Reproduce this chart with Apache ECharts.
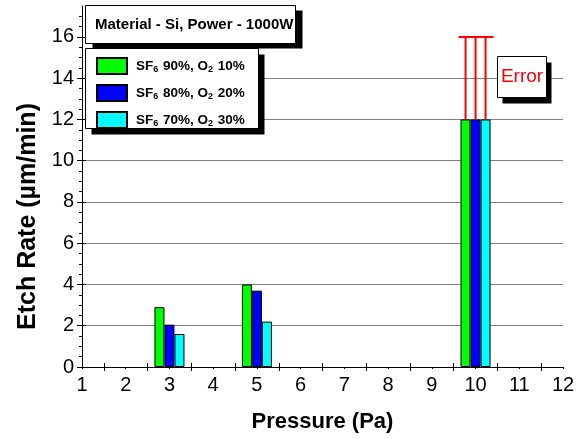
<!DOCTYPE html>
<html>
<head>
<meta charset="utf-8">
<script src="https://cdn.jsdelivr.net/npm/echarts@6/dist/echarts.min.js"></script>
<style>
  html, body { margin: 0; padding: 0; background: #fff; }
  #chart { width: 581px; height: 439px; }
</style>
</head>
<body>
<div id="chart"></div>
<script>
// data
const pressure = [3, 5, 10];
const seriesNames = ['SF6 90%, O2 10%', 'SF6 80%, O2 20%', 'SF6 70%, O2 30%'];
const sf90 = [2.9, 4.0, 12];
const sf80 = [2.05, 3.7, 12];
const sf70 = [1.6, 2.2, 12];
const errorAt = [10];
const errorLow = [12];
const errorHigh = [16];
const xLabels = [1, 2, 3, 4, 5, 6, 7, 8, 9, 10, 11, 12];
const xTicks = [1.5, 2.5, 3.5, 4.5, 5.5, 6.5, 7.5, 8.5, 9.5, 10.5, 11.5];
const yLabels = [0, 2, 4, 6, 8, 10, 12, 14, 16];
const yMinor = [0.5, 1, 1.5, 2.5, 3, 3.5, 4.5, 5, 5.5, 6.5, 7, 7.5, 8.5, 9, 9.5,
  10.5, 11, 11.5, 12.5, 13, 13.5, 14.5, 15, 15.5, 16.5, 17];

const colors = ['#00ff00', '#0000ff', '#00ffff'];
const barW = 10;
const font = '"Liberation Sans", Arial, sans-serif';

const chart = echarts.init(document.getElementById('chart'));

const zip = (ys) => pressure.map((p, i) => [p, ys[i]]);

const barSeries = [sf90, sf80, sf70].map((ys, i) => ({
  name: seriesNames[i],
  type: 'bar',
  xAxisIndex: 0,
  yAxisIndex: 0,
  barWidth: barW,
  barGap: '0%',
  data: zip(ys),
  itemStyle: { color: colors[i], borderColor: '#000', borderWidth: 1 },
}));

const hiddenX = (extra) => Object.assign({
  type: 'value', min: 1, max: 12, interval: 1, position: 'bottom',
  axisLine: { show: false }, axisLabel: { show: false }, splitLine: { show: false },
}, extra);

const hiddenY = (extra) => Object.assign({
  type: 'value', min: 0, max: 17.5, interval: 2, position: 'left',
  axisLine: { show: false }, axisLabel: { show: false }, splitLine: { show: false },
}, extra);

// box with a hard black drop shadow
const box = (x, y, w, h, dx, dy, z) => [
  { type: 'rect', z: z, silent: true, shape: { x: x + dx, y: y + dy, width: w, height: h }, style: { fill: '#000' } },
  { type: 'rect', z: z, silent: true, shape: { x: x, y: y, width: w, height: h }, style: { fill: '#fff', stroke: '#000', lineWidth: 1 } },
];

chart.setOption({
  animation: false,
  grid: { left: 82, right: 18, top: 6, bottom: 72 },
  graphic: [].concat(
    box(85.5, 5.5, 210, 38, 7, 5, 9),
    [{
      type: 'text', z: 9, silent: true, x: 95, y: 25,
      style: { text: 'Material - Si, Power - 1000W', font: 'bold 15px ' + font, fill: '#000', verticalAlign: 'middle' },
    }],
    box(85.5, 48.5, 173, 80, 6, 6, 10),
    box(497.5, 56.5, 49, 41, 5, 6, 10),
    [{
      type: 'text', z: 10, silent: true, x: 522, y: 77,
      style: { text: 'Error', font: '19px ' + font, fill: '#ff0000', align: 'center', verticalAlign: 'middle' },
    }]
  ),
  legend: {
    orient: 'vertical',
    left: 85, top: 48,
    padding: [9, 10, 6, 11],
    itemWidth: 30, itemHeight: 16, itemGap: 9,
    icon: 'rect',
    data: seriesNames,
    formatter: (name) => name.replace('SF6', 'SF{s|6}').replace('O2', 'O{s|2}'),
    textStyle: {
      fontFamily: font, fontSize: 13.5, fontWeight: 'bold', color: '#000',
      padding: [0, 0, 0, 4],
      rich: {
        s: { fontFamily: font, fontSize: 9, fontWeight: 'bold', color: '#000', padding: [8, 1, 0, 0] },
      },
    },
    z: 20,
  },
  xAxis: [
    {
      type: 'value', min: 1, max: 12, interval: 1,
      name: 'Pressure (Pa)',
      nameLocation: 'middle', nameGap: 44,
      nameTextStyle: { fontFamily: font, fontSize: 22, fontWeight: 'bold', color: '#000' },
      axisLine: { show: true, lineStyle: { color: '#000', width: 1 } },
      axisTick: { show: true, inside: false, length: 4, customValues: xTicks, lineStyle: { color: '#000' } },
      axisLabel: { customValues: xLabels, fontFamily: font, fontSize: 20, color: '#000', margin: 8 },
      splitLine: { show: false },
    },
    hiddenX({ axisTick: { show: true, inside: true, length: 4, customValues: xTicks, lineStyle: { color: '#000' } } }),
    hiddenX({ axisTick: { show: true, inside: false, length: 2, customValues: xLabels, lineStyle: { color: '#000' } } }),
  ],
  yAxis: [
    {
      type: 'value', min: 0, max: 17.5, interval: 2,
      name: 'Etch Rate (µm/min)',
      nameLocation: 'middle', nameGap: 40,
      nameTextStyle: { fontFamily: font, fontSize: 25, fontWeight: 'bold', color: '#000', padding: [0, 60, 0, 0] },
      axisLine: { show: true, lineStyle: { color: '#000', width: 1 } },
      axisTick: { show: true, inside: false, length: 5, customValues: yLabels, lineStyle: { color: '#000' } },
      axisLabel: { customValues: yLabels, fontFamily: font, fontSize: 20, color: '#000', margin: 8 },
      splitLine: { show: true, showMaxLine: false, lineStyle: { color: '#808080', width: 1 } },
    },
    hiddenY({ axisTick: { show: true, inside: true, length: 4, customValues: yLabels, lineStyle: { color: '#000' } } }),
    hiddenY({ axisTick: { show: true, inside: false, length: 3, customValues: yMinor, lineStyle: { color: '#000' } } }),
  ],
  series: barSeries.concat([
    {
      name: 'Error',
      type: 'custom',
      xAxisIndex: 0,
      yAxisIndex: 0,
      data: errorAt.map((x, i) => [x, errorLow[i], errorHigh[i]]),
      encode: { x: 0, y: [1, 2] },
      z: 3,
      renderItem: function (params, api) {
        const base = api.coord([api.value(0), api.value(1)]);
        const top = api.coord([api.value(0), api.value(2)]);
        const style = { stroke: '#ff0000', lineWidth: 2 };
        const children = [-barW, 0, barW].map((dx) => ({
          type: 'line',
          shape: { x1: base[0] + dx, y1: base[1], x2: base[0] + dx, y2: top[1] },
          style: style,
        }));
        children.push({
          type: 'line',
          shape: { x1: top[0] - 17, y1: top[1], x2: top[0] + 18, y2: top[1] },
          style: style,
        });
        return { type: 'group', children: children };
      },
    },
  ]),
});
</script>
</body>
</html>
